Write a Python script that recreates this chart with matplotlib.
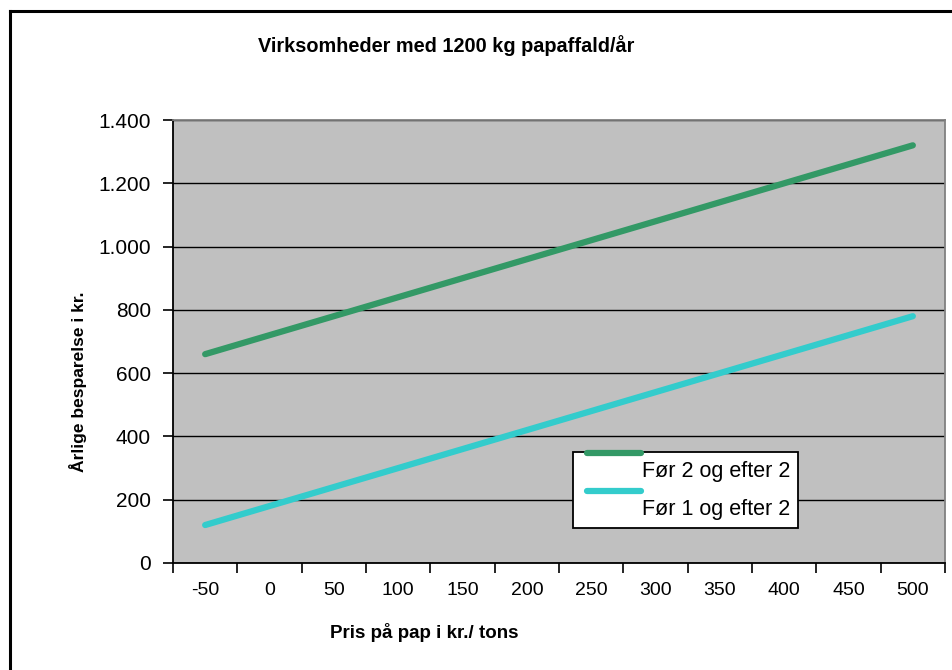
import matplotlib
matplotlib.use("Agg")
import matplotlib.pyplot as plt
from matplotlib.patches import Rectangle
from matplotlib.lines import Line2D

plt.rcParams["font.family"] = ["Liberation Sans", "DejaVu Sans"]

# data
prices = ["-50", "0", "50", "100", "150", "200", "250", "300", "350", "400", "450", "500"]
foer2_efter2 = [660, 720, 780, 840, 900, 960, 1020, 1080, 1140, 1200, 1260, 1320]
foer1_efter2 = [120, 180, 240, 300, 360, 420, 480, 540, 600, 660, 720, 780]
y_ticks = [0, 200, 400, 600, 800, 1000, 1200, 1400]
y_labels = ["0", "200", "400", "600", "800", "1.000", "1.200", "1.400"]

green = "#339966"
cyan = "#33CCCC"

fig = plt.figure(figsize=(9.52, 6.7), dpi=100)
W, H = 952, 670

def fx(px):
  return px / W

def fy(py):
  return 1 - py / H

# outer chart frame (only left/top visible in the crop)
fig.add_artist(Line2D([fx(9.5), fx(9.5)], [fy(11), fy(680)], color="black", lw=2.2))
fig.add_artist(Line2D([fx(9.5), fx(960)], [fy(11), fy(11)], color="black", lw=2.2))

ax = fig.add_axes([fx(173), fy(563), fx(945) - fx(173), fy(120) - fy(563)])
ax.set_facecolor("#C0C0C0")

x = list(range(len(prices)))
ax.plot(x, foer2_efter2, color=green, lw=4.5, solid_capstyle="round", zorder=3)
ax.plot(x, foer1_efter2, color=cyan, lw=4.5, solid_capstyle="round", zorder=3)

ax.set_xlim(-0.5, len(prices) - 0.5)
ax.set_ylim(0, 1400)

ax.set_yticks(y_ticks)
ax.set_yticklabels(y_labels, fontsize=15)
ax.yaxis.grid(True, color="black", lw=1)
ax.set_axisbelow(True)

# category axis: ticks between categories, labels at centres
ax.set_xticks([i - 0.5 for i in range(len(prices) + 1)])
ax.set_xticklabels([])
ax.set_xticks(x, minor=True)
ax.set_xticklabels(prices, minor=True, fontsize=14)
ax.tick_params(axis="x", which="minor", length=0, pad=14)
ax.tick_params(axis="x", which="major", direction="out", length=7, width=1.2, color="black")
ax.tick_params(axis="y", direction="out", length=7, width=1.2, color="black", pad=9)

for s in ["left", "bottom"]:
  ax.spines[s].set_color("black")
  ax.spines[s].set_linewidth(1.3)
for s in ["top", "right"]:
  ax.spines[s].set_color("#808080")
  ax.spines[s].set_linewidth(1.3)

fig.text(fx(446), fy(46), "Virksomheder med 1200 kg papaffald/år", ha="center", va="center",
         fontsize=14.3, fontweight="bold")
fig.text(fx(424), fy(633), "Pris på pap i kr./ tons", ha="center", va="center",
         fontsize=13.5, fontweight="bold")
fig.text(fx(78), fy(382), "Årlige besparelse i kr.", ha="center", va="center",
         fontsize=12.5, fontweight="bold", rotation=90)

# legend drawn the way the reference shows it
fig.add_artist(Rectangle((fx(573), fy(528)), fx(798) - fx(573), fy(452) - fy(528),
                         facecolor="white", edgecolor="black", lw=1.3, zorder=5))
fig.add_artist(Line2D([fx(587), fx(641)], [fy(453), fy(453)], color=green, lw=4.5,
                      solid_capstyle="round", zorder=6))
fig.add_artist(Line2D([fx(587), fx(641)], [fy(491), fy(491)], color=cyan, lw=4.5,
                      solid_capstyle="round", zorder=6))
fig.text(fx(642), fy(472), "Før 2 og efter 2", ha="left", va="center", fontsize=15.5, zorder=6)
fig.text(fx(642), fy(510), "Før 1 og efter 2", ha="left", va="center", fontsize=15.5, zorder=6)

fig.savefig("out.png", dpi=100)
